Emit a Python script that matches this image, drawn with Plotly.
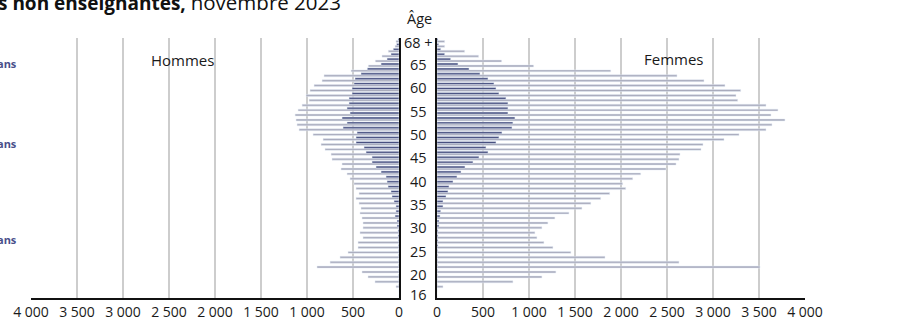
import plotly.graph_objects as go

# ---------------- data ----------------
ages = list(range(16, 69))  # 68 stands for "68 +"

men_grey = [0, 0, 33, 261, 337, 402, 891, 749, 641, 554,
            445, 445, 391, 424, 391, 391, 402, 424, 413, 434,
            467, 434, 467, 489, 532, 565, 630, 619, 728, 738,
            804, 847, 825, 934, 1086, 1108, 1119, 1129, 1097, 1053,
            977, 1010, 967, 923, 836, 815, 521, 333, 257, 185,
            116, 43, 33]
men_dark = [0, 0, 2, 2, 3, 3, 4, 4, 5, 5,
            7, 7, 11, 11, 22, 22, 43, 33, 33, 54,
            76, 87, 119, 130, 141, 195, 250, 293, 293, 358,
            380, 467, 467, 456, 608, 565, 619, 532, 565, 543,
            543, 510, 510, 489, 478, 413, 344, 195, 130, 87,
            62, 25, 10]
women_grey = [0, 0, 65, 825, 1140, 1292, 3511, 2630, 1826, 1455,
              1260, 1162, 1086, 1064, 1140, 1205, 1281, 1434, 1575, 1672,
              1779, 1877, 2051, 2018, 2127, 2214, 2489, 2598, 2630, 2641,
              2870, 2891, 3120, 3283, 3576, 3641, 3782, 3630, 3706, 3576,
              3268, 3250, 3301, 3130, 2902, 2609, 1888, 1050, 702, 452,
              300, 83, 83]
women_dark = [0, 0, 2, 2, 3, 4, 5, 5, 7, 7,
              11, 11, 11, 11, 22, 22, 33, 40, 65, 65,
              98, 119, 130, 174, 217, 261, 304, 391, 456, 554,
              532, 641, 673, 706, 815, 825, 847, 771, 771, 771,
              749, 673, 641, 619, 554, 467, 348, 228, 148, 83,
              40, 18, 10]

age_tick_text = ["16", "20", "25", "30", "35", "40", "45", "50", "55", "60", "65", "68 +"]

x_tick_vals = [0, 500, 1000, 1500, 2000, 2500, 3000, 3500, 4000]
x_tick_text = ["0", "500", "1 000", "1 500", "2 000", "2 500", "3 000", "3 500", "4 000"]

# ---------------- layout constants ----------------
GREY = "#a8aabc"
DARK = "#464e7f"
FONT = "Open Sans"
W, H = 897, 321
TOP, BOTTOM = 38, 297.7
# vertical pixel centres of the central age labels (as placed in the original)
AGE_LABEL_PX = [294, 274, 251, 227, 204, 181, 157, 134, 111, 87, 64, 42]

def px_x(p):
    return p / W

def px_y(p):
    return (BOTTOM - p) / (BOTTOM - TOP)

fig = go.Figure()
fig.add_trace(go.Bar(y=ages, x=men_grey, orientation="h", marker_color=GREY,
                     xaxis="x", yaxis="y", showlegend=False))
fig.add_trace(go.Bar(y=ages, x=men_dark, orientation="h", marker_color=DARK,
                     xaxis="x", yaxis="y", showlegend=False))
fig.add_trace(go.Bar(y=ages, x=women_grey, orientation="h", marker_color=GREY,
                     xaxis="x2", yaxis="y2", showlegend=False))
fig.add_trace(go.Bar(y=ages, x=women_dark, orientation="h", marker_color=DARK,
                     xaxis="x2", yaxis="y2", showlegend=False))

xcommon = dict(showgrid=True, gridcolor="#cdcdcd", gridwidth=1.6, zeroline=False,
               showline=True, linecolor="#111111", linewidth=1.5,
               tickvals=x_tick_vals, ticktext=x_tick_text, ticks="",
               tickfont=dict(family=FONT, size=14, color="#1a1a1a"), fixedrange=True,
               automargin=False)
ycommon = dict(range=[15.5, 68.5], showgrid=False, zeroline=False, showticklabels=False,
               showline=True, linecolor="#111111", linewidth=1.5, ticks="", fixedrange=True,
               automargin=False)

fig.update_layout(
    width=W, height=H,
    margin=dict(l=0, r=0, t=TOP, b=H - BOTTOM, autoexpand=False),
    paper_bgcolor="white", plot_bgcolor="white",
    barmode="group", bargap=0.2, bargroupgap=0.0,
    xaxis=dict(domain=[px_x(31), px_x(399)], range=[4000, 0], anchor="y", **xcommon),
    xaxis2=dict(domain=[px_x(437), px_x(805)], range=[0, 4000], anchor="y2", **xcommon),
    yaxis=dict(anchor="x", side="right", **ycommon),
    yaxis2=dict(anchor="x2", side="left", **ycommon),
    font=dict(family=FONT, color="#1a1a1a"),
)

ann = []
ann.append(dict(text="<b>s non enseignantes,</b> <span style='font-size:20.5px'>novembre 2023</span>",
                x=px_x(-4), y=px_y(18),
                xref="paper", yref="paper", xanchor="left", yanchor="bottom",
                showarrow=False, font=dict(family=FONT, size=19, color="#111111")))
ann.append(dict(text="Âge", x=px_x(419), y=px_y(19), xref="paper", yref="paper",
                xanchor="center", yanchor="middle", showarrow=False,
                font=dict(family=FONT, size=14.5, color="#1a1a1a")))
for t, p in zip(age_tick_text, AGE_LABEL_PX):
    ann.append(dict(text=t, x=px_x(418), y=px_y(p), xref="paper", yref="paper",
                    xanchor="center", yanchor="middle", showarrow=False,
                    font=dict(family=FONT, size=14.5, color="#1a1a1a")))
ann.append(dict(text="Hommes", x=px_x(182), y=px_y(60), xref="paper", yref="paper",
                xanchor="center", yanchor="middle", showarrow=False,
                font=dict(family=FONT, size=15, color="#1a1a1a")))
ann.append(dict(text="Femmes", x=px_x(674), y=px_y(59), xref="paper", yref="paper",
                xanchor="center", yanchor="middle", showarrow=False,
                font=dict(family=FONT, size=15, color="#1a1a1a")))
for yp in [63, 143, 239]:
    ann.append(dict(text="<b>ans</b>", x=px_x(19), y=px_y(yp), xref="paper", yref="paper",
                    xanchor="right", yanchor="middle", showarrow=False,
                    font=dict(family=FONT, size=11, color="#4a4f8a")))
fig.update_layout(annotations=ann)

fig.write_html("out.html", config={"displayModeBar": False},
               post_script="document.body.style.margin='0';")
